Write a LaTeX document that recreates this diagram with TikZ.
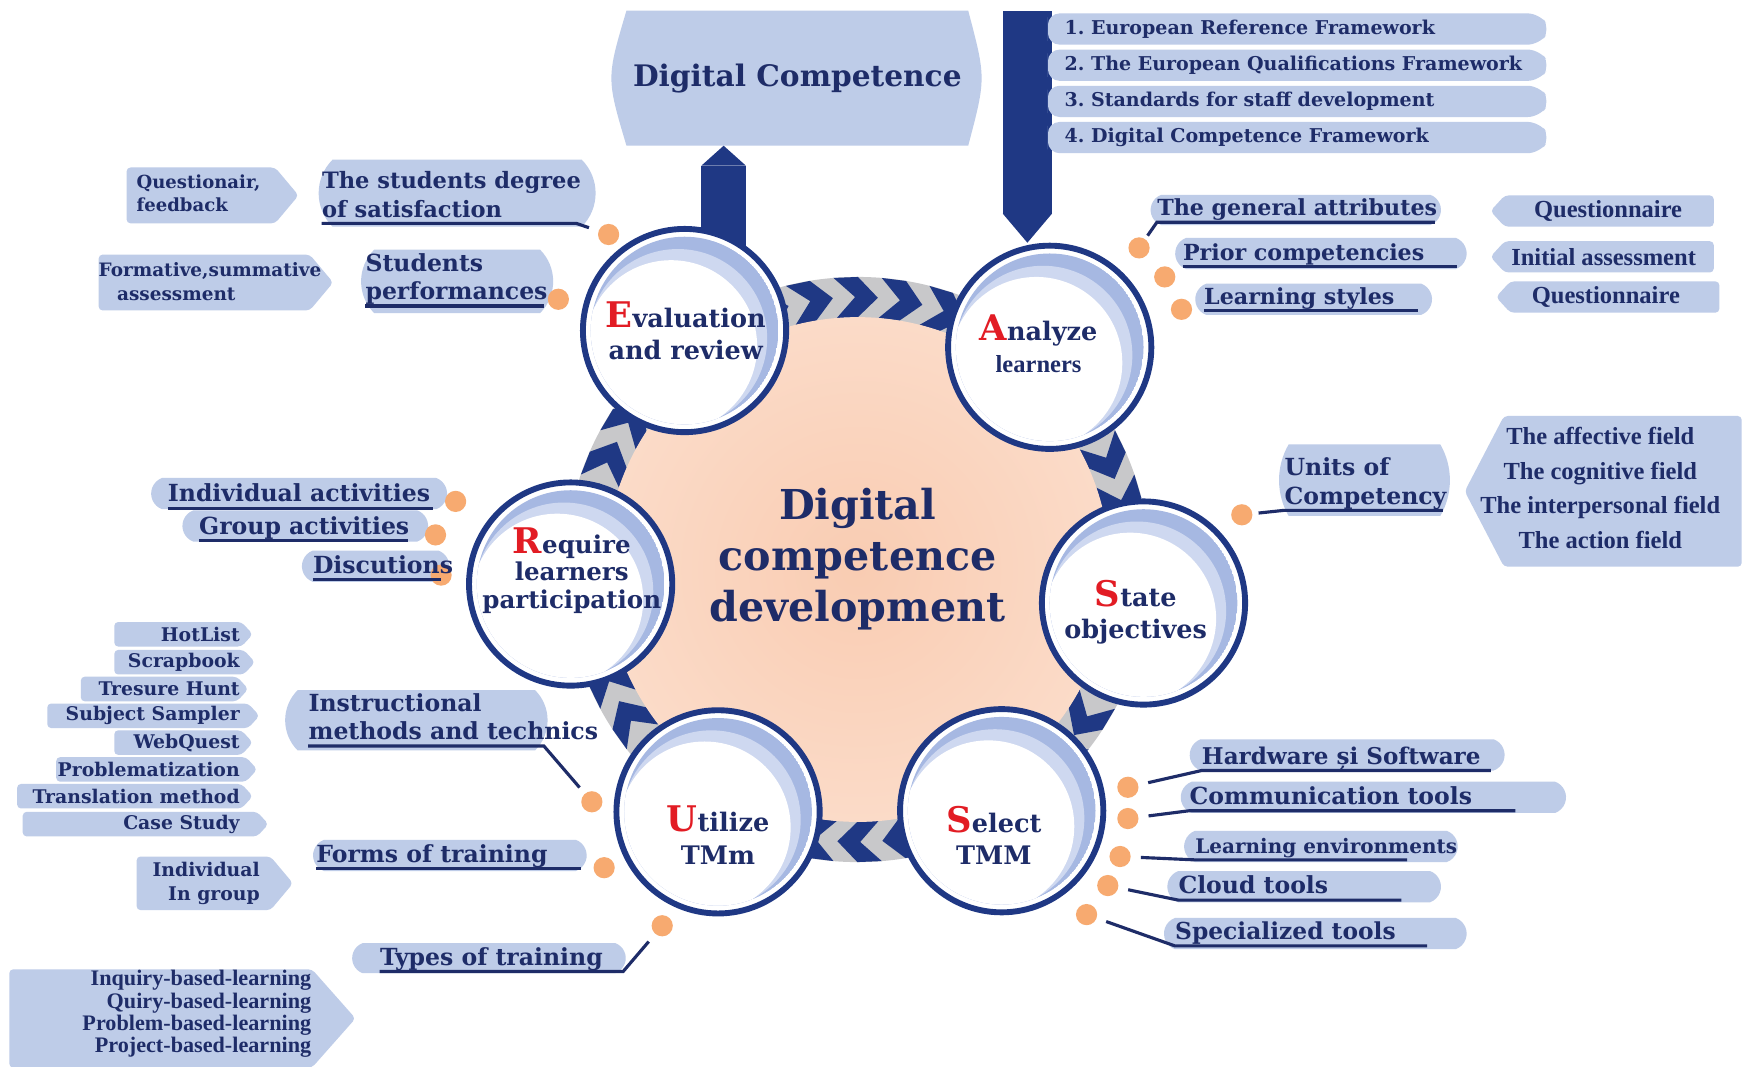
\documentclass[tikz,border=0pt]{standalone}
\usepackage{fontspec}
\setmainfont{DejaVu Serif}
\newfontfamily\narrowserif{Liberation Serif}
\usetikzlibrary{calc}
\usetikzlibrary{shapes}
\usetikzlibrary{arrows.meta}
\usetikzlibrary{backgrounds}

\definecolor{navy}{RGB}{31,56,132}
\definecolor{ink}{RGB}{30,44,104}
\definecolor{boxblue}{RGB}{190,204,232}
\definecolor{dotorange}{RGB}{247,170,112}
\definecolor{initred}{RGB}{226,28,36}
\definecolor{ringgray}{RGB}{200,200,202}
\definecolor{crescentblue}{RGB}{166,184,226}
\definecolor{crescentlight}{RGB}{206,216,240}
\definecolor{peachcore}{RGB}{249,204,178}
\definecolor{peachedge}{RGB}{253,234,222}

\pgfdeclareradialshading{corefade}{\pgfpointorigin}{color(0bp)=(peachcore); color(50bp)=(peachedge)}

% one unit of the picture
\newcommand{\upx}{0.02cm}
% red capital opening each stage name
\newcommand{\firstletter}[1]{{\color{initred}\fontsize{18}{18}\selectfont #1}}

\begin{document}
\begin{tikzpicture}[x=\upx, y=-\upx,
    every node/.style={inner sep=0pt, text=ink, font=\bfseries},
    pill/.style={rounded rectangle, rounded rectangle arc length=140, fill=boxblue, minimum height=28*\upx},
    tagE/.style={signal, signal to=east, signal pointer angle=95, fill=boxblue, rounded corners=2pt},
    tagW/.style={signal, signal to=west, signal pointer angle=95, fill=boxblue, rounded corners=2pt, minimum height=28*\upx},
    lbl/.style={font=\fontsize{12}{14.5}\selectfont\bfseries, align=left, text depth=3pt, anchor=south west},
    smalltxt/.style={font=\fontsize{9.6}{12}\selectfont\bfseries},
    narrowtxt/.style={font=\narrowserif\fontsize{12.5}{14}\selectfont\bfseries},
    uline/.style={draw=ink, line width=1.6pt},
    dot/.style={circle, fill=dotorange, minimum size=19*\upx},
    stage/.style={circle, draw=navy, line width=3pt, fill=white, minimum size=182*\upx},
    stagetxt/.style={align=center, font=\fontsize{13}{16.5}\selectfont\bfseries},
    bigarrow/.style={navy, line width=22.76pt, -{Triangle[line width=0pt, length=10.2pt, width=22.76pt]}},
    spinearrow/.style={navy, line width=25.04pt, -{Triangle[line width=0pt, length=14.8pt, width=25.04pt]}}
  ]
  \useasboundingbox (0,0) rectangle (1568,955);

  % goal box (its bulging outline is filled behind) and the framework list
  \node[outer sep=0pt, minimum width=306*\upx, minimum height=121*\upx,
        font=\fontsize{15.1}{18}\selectfont\bfseries] (dcbox) at (714,70) {Digital Competence};
  \foreach \txt [count=\i] in {European Reference Framework, The European Qualifications Framework,
      Standards for staff development, Digital Competence Framework}
  {
    \node[tagE, signal pointer angle=110, rounded corners=6pt, minimum width=450*\upx, minimum height=28*\upx, anchor=west]
      (frame\i) at (938,{26+32.4*(\i-1)}) {};
    \node[anchor=west, font=\fontsize{9.7}{11}\selectfont\bfseries] (frametxt\i) at ([xshift=15*\upx]frame\i.west) {\i.~\txt};
  }

  % the six stages, each with its pale crescent
  \coordinate (hub) at (768,510);
  \node[stage] (eval) at (613,296) {};
  \node[stage] (analyze) at (940,311) {};
  \node[stage] (state) at (1024,540) {};
  \node[stage] (select) at (897,726) {};
  \node[stage] (utilize) at (643,727) {};
  \node[stage] (require) at (511,523) {};
  \foreach \s in {eval,analyze,state,select,utilize,require}
  {
    \begin{scope}
      \clip (\s.center) circle[radius=84*\upx];
      \fill[crescentblue] (\s.center) circle[radius=84*\upx];
      \fill[crescentlight] ($(\s.center)+(-6,7)$) circle[radius=80*\upx];
      \fill[white] ($(\s.center)+(-12,14)$) circle[radius=77*\upx];
    \end{scope}
  }
  \node[stagetxt] (evaltxt) at (614,296) {\firstletter{E}valuation\\and review};
  \node[stagetxt] (analyzetxt) at (930,308) {\firstletter{A}nalyze\\{\narrowserif\fontsize{12.5}{13}\selectfont learners}};
  \node[stagetxt] (statetxt) at (1017,548) {\firstletter{S}tate\\objectives};
  \node[stagetxt] (selecttxt) at (890,748) {\firstletter{S}elect\\TMM};
  \node[stagetxt] (utilizetxt) at (643,748) {\firstletter{U}tilize\\TMm};
  \node[stagetxt, font=\fontsize{12.5}{14}\selectfont\bfseries] (requiretxt) at (512,511) {\firstletter{R}equire\\learners\\participation};
  \node[align=center, font=\fontsize{21}{26}\selectfont\bfseries] (core) at (768,501) {Digital\\competence\\development};

  % evaluation side
  \node[tagE, signal pointer angle=100, minimum width=154*\upx, minimum height=50*\upx, anchor=west] (fbtag) at (113,175) {};
  \node[smalltxt, font=\fontsize{9.2}{12}\selectfont\bfseries, align=left, anchor=west] (fb) at (122,173) {Questionair,\\feedback};
  \node[pill, rounded rectangle arc length=90, minimum width=248*\upx, minimum height=60*\upx, anchor=west] (satbox) at (285,173) {};
  \node[lbl, font=\fontsize{11.5}{14.5}\selectfont\bfseries] (sat) at (288,200) {The students degree\\of satisfaction};
  \node[dot] (satdot) at (545,210) {};
  \draw[uline, shorten >=5pt] (sat.south west) -- ++(228,0) -- (satdot);

  \node[tagE, signal pointer angle=100, minimum width=210*\upx, minimum height=50*\upx, anchor=west] (fstag) at (88,253) {};
  \node[align=left, anchor=west, font=\fontsize{9.4}{12}\selectfont\bfseries] (fs) at (88,252) {Formative,summative\\\hspace*{1em}assessment};
  \node[pill, rounded rectangle arc length=90, minimum width=172*\upx, minimum height=57*\upx, anchor=west] (perfbox) at (323,252) {};
  \node[lbl] (perf) at (327,274) {Students\\performances};
  \node[dot] (perfdot) at (500,268) {};
  \draw[uline] (perf.south west) -- ++(160,0);

  % participation side
  \node[pill, minimum width=265*\upx, anchor=west] (indivbox) at (135,442) {};
  \node[dot] (indivdot) at (408,449) {};
  \node[lbl] (indiv) at (150,455) {Individual activities};
  \draw[uline] (indiv.south west) -- ++(238,0);
  \node[pill, minimum width=220*\upx, anchor=west] (groupbox) at (163,471) {};
  \node[dot] (groupdot) at (390,479) {};
  \node[lbl] (group) at (178,484) {Group activities};
  \draw[uline] (group.south west) -- ++(187,0);
  \node[pill, minimum width=132*\upx, anchor=west] (discbox) at (270,507) {};
  \node[dot] (discdot) at (395,515) {};
  \node[lbl] (disc) at (280,519) {Discutions};
  \draw[uline] (disc.south west) -- ++(115,0);

  % methods, forms and types of training
  \foreach \yy/\xl/\xr/\txt [count=\i] in {568/102/226/HotList, 593/102/228/Scrapbook, 617/72/222/Tresure Hunt,
      641/42/232/Subject Sampler, 665/102/226/WebQuest, 689/50/230/Problematization,
      713/15/226/Translation method, 738/20/240/Case Study}
  {
    \node[tagE, minimum width={(\xr-\xl)*\upx}, minimum height=22*\upx, anchor=west] (method\i) at (\xl,\yy) {};
    \node[smalltxt, anchor=east] (methodtxt\i) at (215,\yy) {\txt};
  }
  \node[pill, rounded rectangle arc length=90, minimum width=235*\upx, minimum height=54*\upx, anchor=west] (instrbox) at (255,645) {};
  \node[lbl] (instr) at (276,668) {Instructional\\methods and technics};
  \node[dot] (instrdot) at (530,718) {};
  \draw[uline, shorten >=4pt] (instr.south west) -- ++(211,0) -- (instrdot);

  \node[tagE, signal pointer angle=100, minimum width=140*\upx, minimum height=48*\upx, anchor=west] (grouptag) at (122,791) {};
  \node[smalltxt, align=right, anchor=east] (groupform) at (233,791) {Individual\\In group};
  \node[pill, minimum width=245*\upx, anchor=west] (formsbox) at (280,766) {};
  \node[dot] (formsdot) at (541,777) {};
  \node[lbl] (forms) at (283,778) {Forms of training};
  \draw[uline] (forms.south west) -- ++(237,0);

  \node[pill, minimum width=245*\upx, minimum height=27*\upx, anchor=west] (typesbox) at (315,858) {};
  \node[lbl] (types) at (340,870) {Types of training};
  \node[dot] (typesdot) at (593,829) {};
  \draw[uline, shorten >=5pt] (types.south west) -- ++(218,0) -- (typesdot);
  \node[tagE, signal pointer angle=97, minimum width=310*\upx, minimum height=88*\upx, anchor=west] (typestag) at (8,912) {};
  \node[align=right, anchor=east, font=\narrowserif\fontsize{11.3}{11.4}\selectfont\bfseries] (typelist) at (279,908)
    {Inquiry-based-learning\\Quiry-based-learning\\Problem-based-learning\\Project-based-learning};

  % learner analysis
  \node[pill, minimum width=260*\upx, minimum height=27*\upx, anchor=west] (attrbox) at (1030,188) {};
  \node[lbl, font=\fontsize{11.3}{14}\selectfont\bfseries] (attr) at (1036,199) {The general attributes};
  \node[dot] (attrdot) at (1020,222) {};
  \draw[uline, shorten <=2pt] (attrdot) -- (attr.south west) -- ++(249,0);
  \node[pill, minimum width=261*\upx, anchor=west] (priorbox) at (1052,227) {};
  \node[lbl, font=\fontsize{11.3}{14}\selectfont\bfseries] (prior) at (1059,239) {Prior competencies};
  \node[dot] (priordot) at (1043,248) {};
  \draw[uline] (prior.south west) -- ++(246,0);
  \node[pill, minimum width=212*\upx, anchor=west] (stylesbox) at (1070,268) {};
  \node[lbl, font=\fontsize{11.3}{14}\selectfont\bfseries] (styles) at (1078,278) {Learning styles};
  \node[dot] (stylesdot) at (1058,277) {};
  \draw[uline] (styles.south west) -- ++(192,0);

  \node[tagW, minimum width=200*\upx, anchor=east] (qatag) at (1535,189) {};
  \node[narrowtxt] (qa) at (1440,189) {Questionnaire};
  \node[tagW, minimum width=200*\upx, anchor=east] (inittag) at (1535,230) {};
  \node[narrowtxt] (init) at (1436,230) {Initial assessment};
  \node[tagW, minimum width=200*\upx, anchor=east] (qbtag) at (1540,266) {};
  \node[narrowtxt] (qb) at (1438,266) {Questionnaire};

  % objectives
  \node[pill, rounded rectangle arc length=60, minimum width=153*\upx, minimum height=64*\upx, anchor=west] (unitsbox) at (1145,430) {};
  \node[lbl] (units) at (1150,457) {Units of\\Competency};
  \node[dot] (unitsdot) at (1112,461) {};
  \draw[uline, shorten <=3pt] (unitsdot) -- (units.south west) -- ++(142,0);
  \node[tagW, signal pointer angle=125, minimum width=248*\upx, minimum height=135*\upx, anchor=east] (fieldtag) at (1560,440) {};
  \node[align=center, font=\narrowserif\fontsize{12.5}{17.6}\selectfont\bfseries] (fields) at (1433,437)
    {The affective field\\The cognitive field\\The interpersonal field\\The action field};

  % tools to select
  \foreach \nm/\xl/\xr/\yc/\tx/\ty/\ul/\dx/\dy/\fsz/\txt in {
      hw/1065/1347/676/1076/690/259/1010/705/11.75/Hardware și Software,
      comm/1057/1402/714/1065/726/292/1010/733/12/Communication tools,
      env/1060/1305/758/1070/770/190/1003/767/10.2/Learning environments,
      cloud/1045/1290/794/1055/806/200/992/793/12/Cloud tools,
      spec/1042/1313/836/1052/847/226/973/819/11.9/Specialized tools}
  {
    \node[pill, minimum width={(\xr-\xl)*\upx}, anchor=west] (\nm box) at (\xl,\yc) {};
    \node[lbl, font=\fontsize{\fsz}{14}\selectfont\bfseries] (\nm) at (\tx,\ty) {\txt};
    \node[dot] (\nm dot) at (\dx,\dy) {};
    \draw[uline, shorten <=5pt] (\nm dot) -- (\nm.south west) -- ++(\ul,0);
  }

  % ring, core, goal box outline and the two spines behind everything
  \begin{scope}[on background layer]
    \fill[white] (0,0) rectangle (1568,955);
    \fill[boxblue] (dcbox.north west) .. controls ([xshift=-18*\upx]dcbox.west) .. (dcbox.south west)
      -- (dcbox.south east) .. controls ([xshift=16*\upx]dcbox.east) .. (dcbox.north east) -- cycle;
    \fill[ringgray] (hub) circle[radius=262*\upx];
    \begin{scope}[shift={(hub)}]
      \foreach \i in {0,...,37}{
        \pgfmathsetmacro\ang{\i*360/38}
        \fill[navy] (\ang:262) -- ({\ang+4.8}:262) -- ({\ang+9}:244) -- ({\ang+4.8}:226) -- (\ang:226) -- ({\ang+4.2}:244) -- cycle;
      }
    \end{scope}
    \shade[shading=corefade] (hub) circle[radius=226*\upx];
    \coordinate (evalfoot) at (648,232);
    \draw[bigarrow] (evalfoot) -- (evalfoot |- dcbox.south);
    \coordinate (spinetop) at (920,10);
    \draw[spinearrow] (spinetop) -- (spinetop |- analyze.north);
  \end{scope}
\end{tikzpicture}
\end{document}
